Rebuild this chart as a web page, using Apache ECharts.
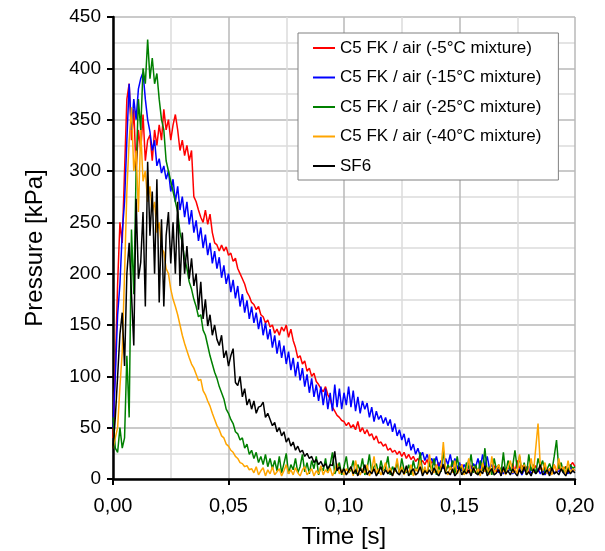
<!DOCTYPE html>
<html>
<head>
<meta charset="utf-8">
<script src="https://cdn.jsdelivr.net/npm/echarts@6/dist/echarts.min.js"></script>
<style>html,body{margin:0;padding:0;background:#fff}#c{width:605px;height:551px}</style>
</head>
<body>
<div id="c"></div>
<script>
// sampling step of the recorded traces [s]
const DT = 0.001;

const seriesNames = [
  'C5 FK / air (-5°C mixture)',
  'C5 FK / air (-15°C mixture)',
  'C5 FK / air (-25°C mixture)',
  'C5 FK / air (-40°C mixture)',
  'SF6'
];

const xTicks = [0, 0.05, 0.10, 0.15, 0.20];
const yTicks = [0, 50, 100, 150, 200, 250, 300, 350, 400, 450];

// pressure [kPa], one sample per millisecond
const pRed = [
  40,110,190,250,230,300,370,385,330,360,
  300,340,320,355,310,330,335,310,340,325,
  345,330,360,340,350,330,345,355,340,320,
  330,315,325,310,320,275,270,262,255,250,
  262,248,258,240,230,228,222,228,222,226,
  218,220,212,215,205,200,195,190,182,178,
  172,170,165,168,160,158,152,155,148,150,
  142,146,140,148,144,150,138,146,135,128,
  118,120,112,115,105,108,100,103,95,92,
  88,85,90,82,78,70,66,62,60,57,
  56,52,55,50,53,48,56,46,50,44,
  48,42,44,38,42,35,36,32,34,28,
  30,26,28,24,27,22,26,20,24,19,
  22,17,20,15,18,14,19,12,17,15,
  12,16,10,14,8,13,9,15,7,12,
  10,14,8,11,6,13,9,12,7,10,
  8,14,6,11,9,13,7,12,8,10,
  6,11,9,15,7,18,10,13,8,12,
  6,10,9,13,7,11,8,12,6,10,
  9,14,7,11,8,10,12,9,13,16,
  12
];

const pBlue = [
  50,100,160,190,240,270,330,385,340,370,
  350,380,390,396,370,350,338,320,330,305,
  312,298,305,292,300,280,292,270,285,262,
  275,255,270,248,262,240,252,232,245,225,
  238,218,230,210,222,205,216,196,208,190,
  200,182,194,176,188,168,180,162,174,156,
  168,152,162,146,158,140,152,136,146,128,
  140,122,135,118,130,112,124,106,118,100,
  114,96,108,90,102,84,98,80,92,76,
  90,72,88,68,84,66,92,70,88,68,
  84,72,90,70,86,66,80,64,76,68,
  74,60,70,56,66,58,62,54,60,52,
  58,46,54,42,48,38,44,32,40,28,
  34,24,30,22,26,18,24,16,20,14,
  22,12,18,10,20,14,24,12,20,10,
  16,8,14,10,18,8,15,12,20,10,
  24,12,22,10,14,8,12,6,10,5,
  9,7,11,5,8,6,10,4,9,7,
  12,5,8,6,10,5,9,4,8,6,
  11,5,9,7,10,6,8,5,12,7,
  9
];

const pGreen = [
  60,30,26,50,30,40,120,60,243,180,
  300,370,340,400,385,428,390,410,385,395,
  370,350,340,310,300,290,280,270,260,240,
  230,215,205,192,185,175,168,158,160,145,
  140,130,120,112,104,98,90,84,78,68,
  64,58,54,46,44,38,40,30,34,24,
  28,20,26,16,22,14,24,12,20,10,
  18,8,22,6,15,25,5,14,9,20,
  6,12,24,7,16,5,18,10,22,4,
  12,8,20,6,14,26,5,10,16,4,
  12,22,6,9,18,5,14,8,20,4,
  10,24,6,12,15,5,18,8,10,22,
  4,12,7,16,5,20,9,6,14,4,
  18,8,12,26,6,10,5,16,8,20,
  4,12,7,28,6,14,9,18,5,22,
  8,12,4,16,10,24,6,14,5,18,
  8,30,6,12,4,20,9,14,6,26,
  5,18,8,12,28,10,22,6,16,4,
  24,8,14,5,20,12,18,6,10,15,
  8,22,38,10,16,6,12,8,14,10,
  12
];

const pOrange = [
  30,40,50,90,124,200,280,330,362,300,
  320,260,340,290,300,270,285,260,270,240,
  250,225,221,205,200,185,175,168,160,150,
  140,132,125,118,112,108,102,96,97,86,
  82,76,71,64,58,52,48,42,40,34,
  32,28,26,22,20,16,15,12,13,9,
  10,6,12,4,8,11,3,9,5,12,
  4,7,10,3,8,14,5,9,4,11,
  6,3,9,12,4,7,10,3,8,5,
  13,4,9,6,11,3,8,15,5,9,
  4,10,6,12,3,18,7,4,10,6,
  14,3,8,22,5,10,4,9,16,6,
  11,3,8,20,5,12,4,9,6,14,
  3,10,7,18,5,12,4,24,8,6,
  14,5,10,36,8,4,12,6,18,5,
  9,14,4,8,20,6,12,5,10,3,
  16,7,11,4,22,6,10,14,5,9,
  4,12,18,6,10,5,24,8,14,4,
  10,20,6,30,54,12,8,16,5,10,
  4,14,6,20,8,12,5,18,6,10,
  8
];

const pBlack = [
  30,60,100,141,162,110,200,230,180,130,
  273,195,211,260,168,309,237,280,200,292,
  172,253,168,237,260,210,250,200,270,188,
  240,200,227,195,215,188,200,165,192,156,
  175,149,160,140,150,136,130,140,118,125,
  110,120,127,94,91,100,80,88,72,78,
  68,76,64,70,71,75,60,64,58,52,
  55,46,50,42,46,36,40,32,36,28,
  32,26,28,22,25,20,22,16,19,14,
  17,12,15,10,14,13,27,8,12,6,
  10,4,8,12,5,9,3,11,6,14,
  4,8,5,10,3,7,12,4,9,5,
  8,3,11,6,4,9,5,13,3,7,
  10,4,6,12,3,8,5,9,4,11,
  6,3,8,14,5,7,4,10,3,6,
  12,4,8,5,9,3,11,6,4,8,
  5,13,3,7,10,4,6,9,3,12,
  5,8,4,10,6,3,9,5,12,4,
  7,3,10,5,8,14,4,6,9,3,
  11,5,7,4,10,6,3,9,5,8,
  6
];

const seriesValues = [pRed, pBlue, pGreen, pOrange, pBlack];
const seriesColors = ['#ff0000', '#0000ff', '#008000', '#ffa500', '#000000'];

function toPairs(arr) {
  return arr.map((v, i) => [+(i * DT).toFixed(4), v]);
}

const FONT = 'Arial, "Liberation Sans", sans-serif';

const chart = echarts.init(document.getElementById('c'), null, { renderer: 'canvas' });
chart.setOption({
  animation: false,
  backgroundColor: '#ffffff',
  grid: { left: 113, right: 30, top: 17, bottom: 72, containLabel: false, outerBoundsMode: 'none' },
  legend: {
    orient: 'vertical',
    left: 298,
    top: 33,
    padding: [6, 17, 5, 15],
    itemGap: 11.5,
    itemWidth: 22,
    itemHeight: 2,
    icon: 'rect',
    backgroundColor: '#ffffff',
    borderColor: '#808080',
    borderWidth: 1,
    textStyle: { fontFamily: FONT, fontSize: 17, color: '#000', lineHeight: 18 },
    data: seriesNames
  },
  xAxis: {
    type: 'value',
    min: xTicks[0],
    max: xTicks[xTicks.length - 1],
    interval: 0.05,
    name: 'Time [s]',
    nameLocation: 'middle',
    nameGap: 46,
    nameTextStyle: { fontFamily: FONT, fontSize: 24, color: '#000' },
    axisLine: { show: true, onZero: false, lineStyle: { color: '#000', width: 2.5 } },
    axisTick: { show: true, inside: false, length: 6, lineStyle: { color: '#000', width: 2 } },
    axisLabel: {
      fontFamily: FONT, fontSize: 20, color: '#000', margin: 17,
      formatter: v => v.toFixed(2).replace('.', ',')
    },
    splitLine: { show: true, lineStyle: { color: '#b8b8b8', width: 1.5 } },
    minorTick: { show: false, splitNumber: 2 },
    minorSplitLine: { show: true, lineStyle: { color: '#dcdcdc', width: 1.5 } }
  },
  yAxis: {
    type: 'value',
    min: yTicks[0],
    max: yTicks[yTicks.length - 1],
    interval: 50,
    name: 'Pressure [kPa]',
    nameLocation: 'middle',
    nameGap: 66,
    nameTextStyle: { fontFamily: FONT, fontSize: 24, color: '#000' },
    axisLine: { show: true, onZero: false, lineStyle: { color: '#000', width: 2.5 } },
    axisTick: { show: true, inside: false, length: 6, lineStyle: { color: '#000', width: 2 } },
    axisLabel: { fontFamily: FONT, fontSize: 19, color: '#000', margin: 12 },
    splitLine: { show: true, lineStyle: { color: '#b8b8b8', width: 1.5 } },
    minorTick: { show: false, splitNumber: 2 },
    minorSplitLine: { show: true, lineStyle: { color: '#dcdcdc', width: 1.5 } }
  },
  series: seriesNames.map((n, k) => ({
    name: n,
    type: 'line',
    data: toPairs(seriesValues[k]),
    showSymbol: false,
    symbol: 'none',
    clip: true,
    lineStyle: { color: seriesColors[k], width: 1.5 },
    itemStyle: { color: seriesColors[k] },
    emphasis: { disabled: true }
  }))
});
</script>
</body>
</html>
